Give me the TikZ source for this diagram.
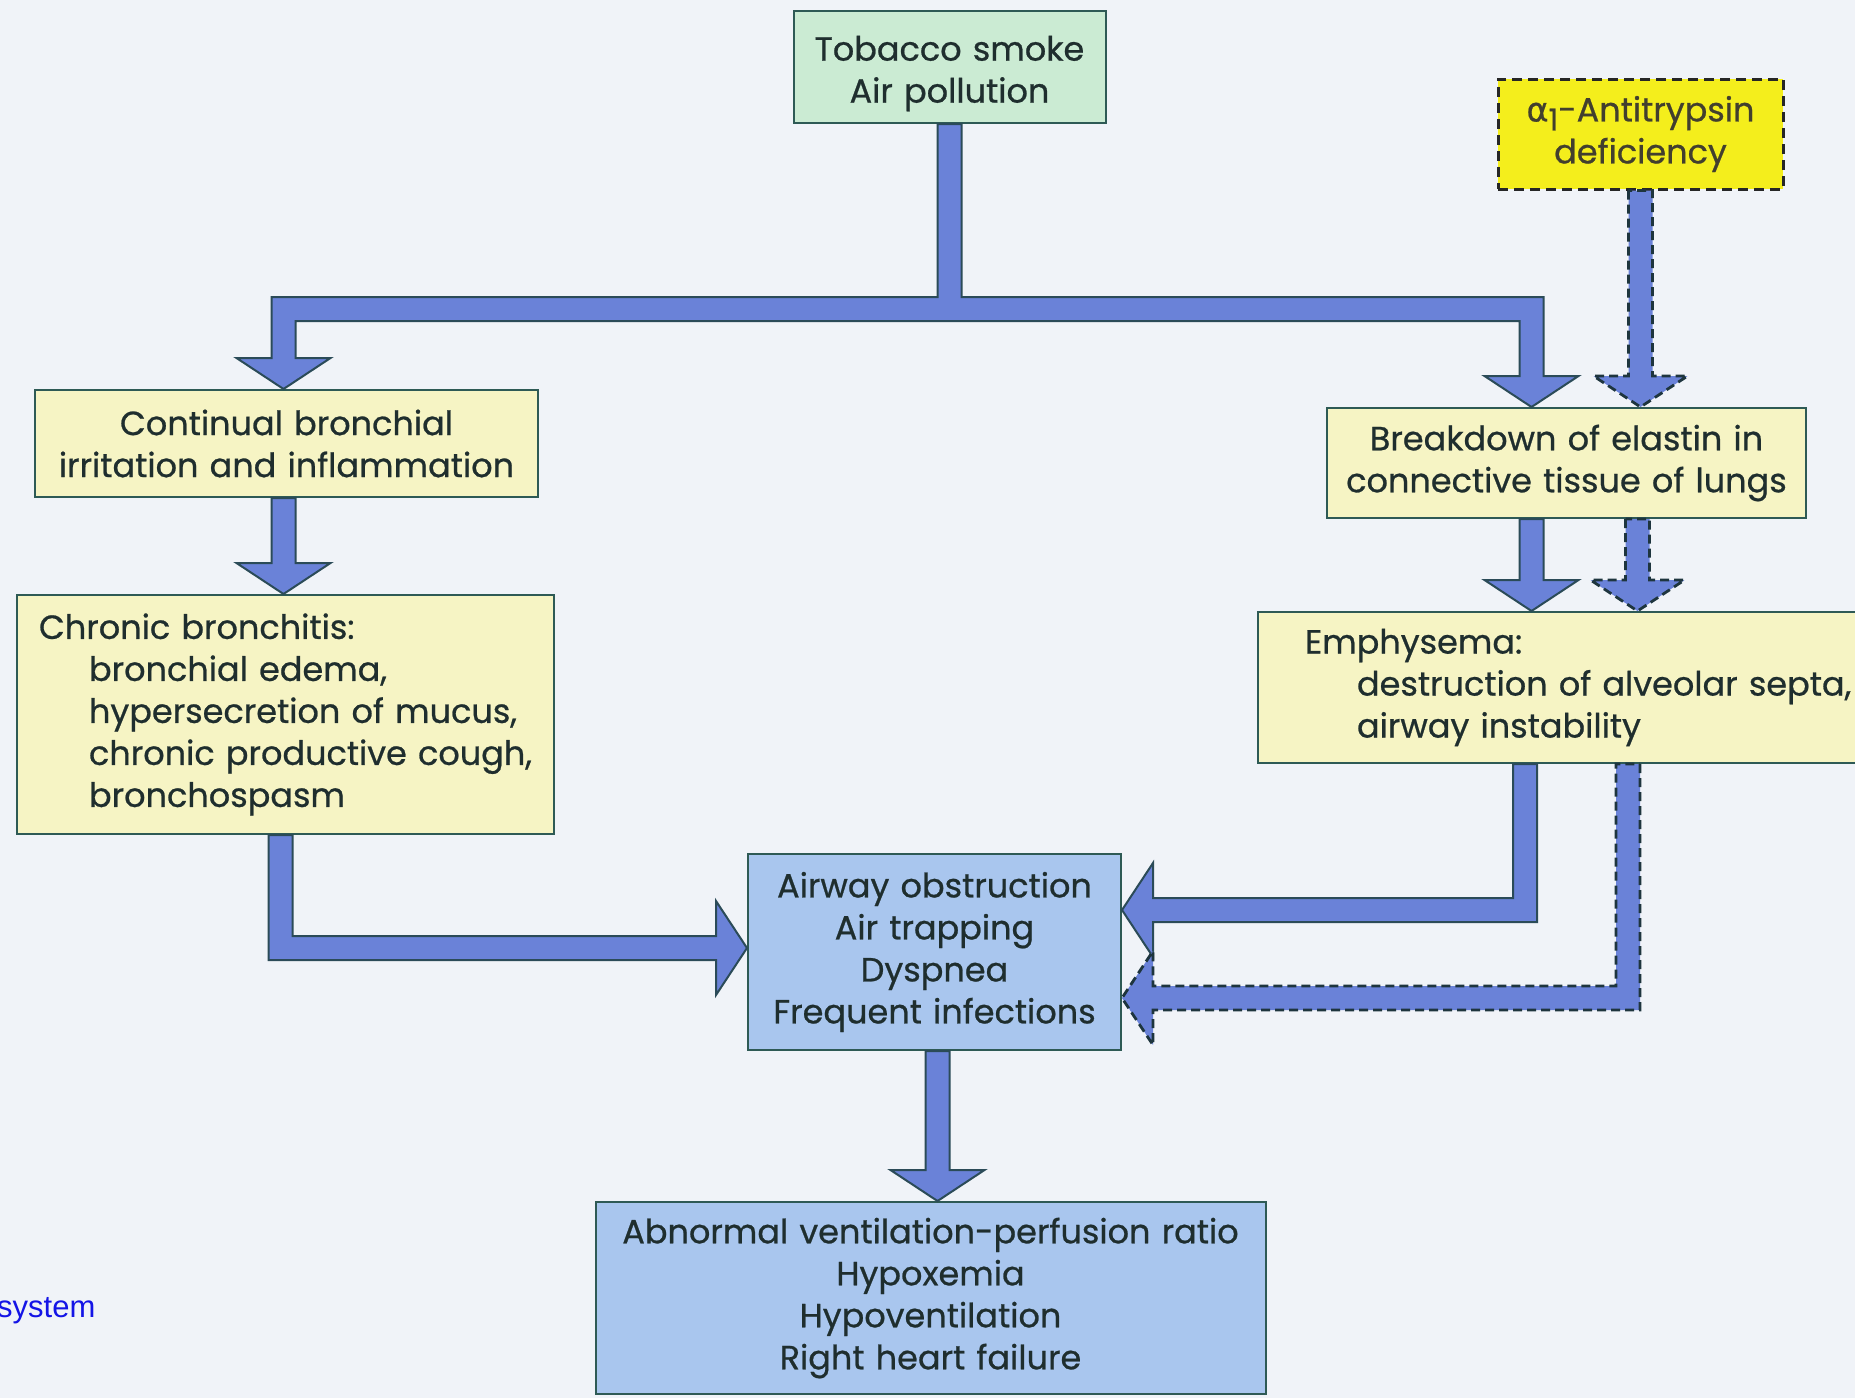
\documentclass[tikz,border=0pt]{standalone}
\usepackage{fontspec}
\setmainfont{Poppins}
\newfontfamily\boxfont{Poppins}[FakeBold=0.7]
\newfontfamily\sysfont{Liberation Sans}
\newfontfamily\grkfont{DejaVu Sans}[FakeBold=0.7]
\usetikzlibrary{calc}
\definecolor{bgcol}{HTML}{F0F3F8}
\definecolor{tobgreen}{HTML}{CBEBD3}
\definecolor{paleyellow}{HTML}{F6F4C4}
\definecolor{brightyellow}{HTML}{F4EE1C}
\definecolor{lightblue}{HTML}{A9C6EE}
\definecolor{arrowblue}{HTML}{6A82D8}
\definecolor{arrowline}{HTML}{2B4B58}
\definecolor{boxline}{HTML}{2E5A55}
\definecolor{textcol}{HTML}{1F2E2E}
\definecolor{linkblue}{HTML}{1414E6}
\def\aw{12pt}\def\ah{47pt}\def\al{31pt}
\newcommand\fatdown[3][]{\path[fatarrow,#1] let \p1=(#2), \p2=(#3) in
  (\x1-\aw,\y1) -- (\x1-\aw,\y2+\al) -- (\x1-\ah,\y2+\al) -- (\x1,\y2) --
  (\x1+\ah,\y2+\al) -- (\x1+\aw,\y2+\al) -- (\x1+\aw,\y1) -- cycle;}
\newcommand\fatelbowR[3][]{\path[fatarrow,#1] let \p1=(#2), \p2=(#3) in
  (\x1-\aw,\y1) -- (\x1-\aw,\y2-\aw) -- (\x2-\al,\y2-\aw) -- (\x2-\al,\y2-\ah) -- (\x2,\y2) --
  (\x2-\al,\y2+\ah) -- (\x2-\al,\y2+\aw) -- (\x1+\aw,\y2+\aw) -- (\x1+\aw,\y1) -- cycle;}
\newcommand\fatelbowL[3][]{\path[fatarrow,#1] let \p1=(#2), \p2=(#3) in
  (\x1+\aw,\y1) -- (\x1+\aw,\y2-\aw) -- (\x2+\al,\y2-\aw) -- (\x2+\al,\y2-\ah) -- (\x2,\y2) --
  (\x2+\al,\y2+\ah) -- (\x2+\al,\y2+\aw) -- (\x1-\aw,\y2+\aw) -- (\x1-\aw,\y1) -- cycle;}
\tikzset{
  box/.style n args={2}{draw=boxline, line width=2pt, inner xsep=10pt, inner ysep=0pt,
    minimum width=#1, minimum height=#2, text width=#1-20pt, text=textcol,
    font=\boxfont\fontsize{33.5}{42}\selectfont},
  fatarrow/.style={fill=arrowblue, draw=arrowline, line width=2pt, line join=miter},
  dashedarrow/.style={dash pattern=on 9pt off 5pt, line width=2.8pt, draw=arrowline!70!black},
}
\begin{document}
\begin{tikzpicture}[x=1pt,y=-1pt]
\clip (0,0) rectangle (1855,1398);
\fill[bgcol] (0,0) rectangle (1855,1398);

% boxes
\node[box={312pt}{112pt}, fill=tobgreen, align=center] (tob) at (949.5,67) {\rule{0pt}{38pt}Tobacco smoke\\Air pollution};
\node[box={285pt}{110pt}, fill=brightyellow, align=center, draw=black!85, dash pattern=on 10pt off 6pt, line width=3pt, text=black!70!olive] (alpha) at (1640.5,134)
  {{\grkfont α}\raisebox{-9pt}{\fontsize{30}{30}\selectfont 1}-Antitrypsin\\deficiency};
\node[box={503pt}{107pt}, fill=paleyellow, align=center] (cont) at (286.5,443.5) {Continual bronchial\\irritation and inflammation};
\node[box={537pt}{239pt}, fill=paleyellow, align=left] (chron) at (285.5,714.5)
  {\hspace*{12pt}Chronic bronchitis:\\\hspace*{62pt}bronchial edema,\\\hspace*{62pt}hypersecretion of mucus,\\\hspace*{62pt}chronic productive cough,\\\hspace*{62pt}bronchospasm};
\node[box={479pt}{110pt}, fill=paleyellow, align=center] (brk) at (1566.5,463) {Breakdown of elastin in\\connective tissue of lungs};
\node[box={622pt}{151pt}, fill=paleyellow, align=left] (emph) at (1569,687.5)
  {\hspace*{37pt}Emphysema:\\\hspace*{89pt}destruction of alveolar septa,\\\hspace*{89pt}airway instability};
\node[box={373pt}{196pt}, fill=lightblue, align=center] (airway) at (934.5,952)
  {Airway obstruction\\Air trapping\\Dyspnea\\Frequent infections};
\node[box={670pt}{192pt}, fill=lightblue, align=center] (abn) at (930.5,1298)
  {Abnormal ventilation-perfusion ratio\\Hypoxemia\\Hypoventilation\\Right heart failure};

% connectors
\coordinate (band) at (949,309);
\path[fatarrow] let \p1=(tob.south), \p2=($(cont.north)+(-3,0)$), \p3=($(brk.north)+(-35,0)$), \p4=(band) in
  (\x1-\aw,\y1) -- (\x1-\aw,\y4+\aw) -- (\x2-\aw,\y4+\aw) -- (\x2-\aw,\y2+\al) -- (\x2-\ah,\y2+\al) -- (\x2,\y2) --
  (\x2+\ah,\y2+\al) -- (\x2+\aw,\y2+\al) -- (\x2+\aw,\y4-\aw) -- (\x3-\aw,\y4-\aw) -- (\x3-\aw,\y3+\al) --
  (\x3-\ah,\y3+\al) -- (\x3,\y3) -- (\x3+\ah,\y3+\al) -- (\x3+\aw,\y3+\al) -- (\x3+\aw,\y4+\aw) --
  (\x1+\aw,\y4+\aw) -- (\x1+\aw,\y1) -- cycle;
\fatdown[dashedarrow]{alpha.south}{brk.north}
\fatdown{$(cont.south)+(-3,0)$}{chron.north}
\fatdown{$(brk.south)+(-35,0)$}{emph.north}
\fatdown[dashedarrow]{$(brk.south)+(71,0)$}{emph.north}
\fatelbowR{$(chron.south)+(-5,0)$}{$(airway.west)+(0,-4)$}
\fatelbowL{$(emph.south west)+(268,0)$}{$(airway.east)+(0,-42)$}
\fatelbowL[dashedarrow]{$(emph.south west)+(371,0)$}{$(airway.east)+(0,46)$}
\fatdown{$(airway.south)+(3,0)$}{abn.north}

\node[anchor=west, inner sep=0pt, text=linkblue, font=\sysfont\fontsize{31}{31}\selectfont] (sys) at (-3,1311) {system};
\end{tikzpicture}
\end{document}
